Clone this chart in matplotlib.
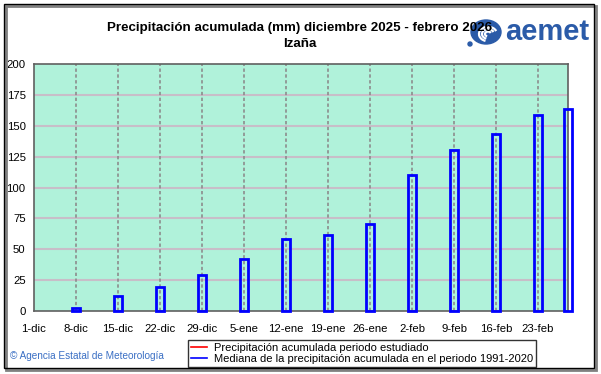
import matplotlib
matplotlib.use("Agg")
import matplotlib.pyplot as plt
from matplotlib.patches import Rectangle, Arc, Ellipse
from matplotlib.lines import Line2D
import pandas as pd

# data
start_date = "2025-12-01"
end_date = "2026-02-28"
tick_dates = ["2025-12-01", "2025-12-08", "2025-12-15", "2025-12-22", "2025-12-29",
              "2026-01-05", "2026-01-12", "2026-01-19", "2026-01-26",
              "2026-02-02", "2026-02-09", "2026-02-16", "2026-02-23"]
tick_labels = ["1-dic", "8-dic", "15-dic", "22-dic", "29-dic", "5-ene", "12-ene",
               "19-ene", "26-ene", "2-feb", "9-feb", "16-feb", "23-feb"]
bar_dates = ["2025-12-08", "2025-12-15", "2025-12-22", "2025-12-29", "2026-01-05",
             "2026-01-12", "2026-01-19", "2026-01-26", "2026-02-02", "2026-02-09",
             "2026-02-16", "2026-02-23", "2026-02-28"]
median_values = [2.2, 12.4, 19.7, 28.9, 41.9, 58.6, 61.3, 70.8, 110.3, 130.0, 143.7, 158.3, 163.5]
y_ticks = [0, 25, 50, 75, 100, 125, 150, 175, 200]

t0 = pd.Timestamp(start_date)
def day_num(d):
    return (pd.Timestamp(d) - t0).days

tick_x = [day_num(d) for d in tick_dates]
bar_x = [day_num(d) for d in bar_dates]
x_end = day_num(end_date)

plt.rcParams["font.family"] = ["Liberation Sans", "DejaVu Sans"]

W, H = 601, 374
fig = plt.figure(figsize=(W / 100, H / 100), dpi=100)
fig.patch.set_facecolor("white")

ax = fig.add_axes([34 / W, 1 - 311 / H, (568 - 34) / W, (311 - 64) / H])
ax.set_facecolor("#b0f2da")
ax.set_xlim(0, x_end)
ax.set_ylim(0, 200)

for y in y_ticks[1:-1]:
    ax.axhline(y, color="#c8bec8", lw=1.5, zorder=1)
for x in tick_x[1:]:
    ax.axvline(x, color="#8c8c8c", lw=1.2, ls=(0, (2, 1.5)), zorder=1)

ax.bar(bar_x, median_values, width=1.3, facecolor="none", edgecolor="#0000ff",
       linewidth=2, zorder=3, clip_on=False)

ax.set_xticks(tick_x)
ax.set_xticklabels(tick_labels)
ax.set_yticks(y_ticks)
ax.tick_params(length=0, labelsize=8.2, colors="black", pad=9)
ax.tick_params(axis="y", pad=6)
for s in ax.spines.values():
    s.set_color("#606060")
    s.set_linewidth(1.2)

fig.text(300 / W, 1 - 28 / H, "Precipitación acumulada (mm) diciembre 2025 - febrero 2026",
         ha="center", va="center", fontsize=9.6, fontweight="bold")
fig.text(300 / W, 1 - 44 / H, "Izaña", ha="center", va="center", fontsize=9.6, fontweight="bold")

# aemet logo (approximation)
logo_blue = "#2b5ba8"
lax = fig.add_axes([466 / W, 1 - 50 / H, 38 / W, 34 / H])
lax.set_xlim(0, 38)
lax.set_ylim(0, 34)
lax.axis("off")
lax.add_patch(Ellipse((20, 18), 30, 24, color=logo_blue))
for r in (6, 12, 18):
    lax.add_patch(Arc((22, 16), r, r * 0.8, theta1=20, theta2=250, color="white", lw=1.6))
lax.add_patch(Ellipse((4, 6), 4, 4, color=logo_blue))
fig.text(505 / W, 1 - 32 / H, "aemet", ha="left", va="center", fontsize=21,
         fontweight="bold", color=logo_blue)

fig.text(10 / W, 1 - 356 / H, "© Agencia Estatal de Meteorología", ha="left", va="center",
         fontsize=7.2, color="#3a6fc4")

handles = [Line2D([], [], color="red", lw=1.2), Line2D([], [], color="blue", lw=1.2)]
leg = fig.legend(handles,
                 ["Precipitación acumulada periodo estudiado",
                  "Mediana de la precipitación acumulada en el periodo 1991-2020"],
                 loc="upper left", bbox_to_anchor=(188 / W, 1 - 340 / H),
                 fontsize=8, frameon=True, fancybox=False, handlelength=1.5,
                 handletextpad=0.6, borderpad=0.25, labelspacing=0.1, borderaxespad=0)
leg.get_frame().set_edgecolor("black")
leg.get_frame().set_linewidth(1)

# outer border with shadow
fig.add_artist(Rectangle((6 / W, 1 - 370 / H), 590 / W, 364 / H, transform=fig.transFigure,
                         facecolor="none", edgecolor="#808080", lw=2))
fig.add_artist(Rectangle((4 / W, 1 - 368 / H), 590 / W, 364 / H, transform=fig.transFigure,
                         facecolor="none", edgecolor="black", lw=1))

fig.savefig("out.png", dpi=100)
